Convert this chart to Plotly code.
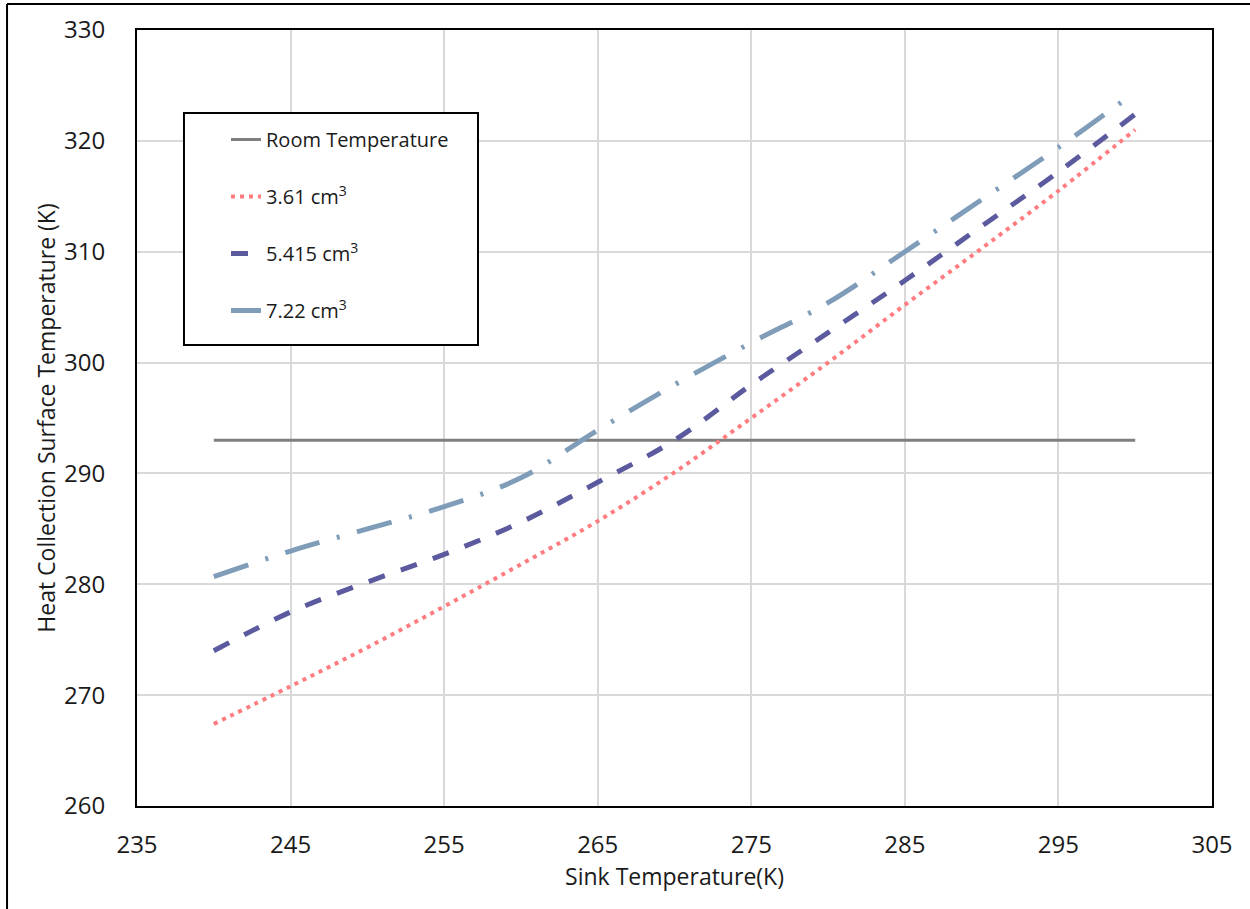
import plotly.graph_objects as go

# Sink temperature (K)
sink_temp = [240, 245, 250, 255, 260, 265, 270, 275, 280, 285, 290, 295, 300]

# Heat collection surface temperature (K) for each collector volume
temp_361 = [267.4, 270.8, 274.3, 278.0, 281.8, 285.7, 290.1, 295.0, 300.0, 305.2, 310.3, 315.5, 321.0]
temp_5415 = [274.0, 277.5, 280.2, 282.7, 285.6, 289.2, 293.0, 298.0, 302.7, 307.4, 312.3, 317.2, 322.4]
temp_722 = [280.7, 283.0, 285.0, 287.0, 289.6, 293.9, 298.0, 301.8, 305.4, 310.0, 314.7, 319.4, 324.4]

room_temp_x = [240, 300]
room_temp_y = [293, 293]

x_ticks = [235, 245, 255, 265, 275, 285, 295, 305]
y_ticks = [260, 270, 280, 290, 300, 310, 320, 330]

FONT = "'Open Sans', Lato, sans-serif"
TXT = "#1a1a1a"

fig = go.Figure()

fig.add_trace(go.Scatter(
    x=room_temp_x, y=room_temp_y, mode="lines", name="Room Temperature",
    line=dict(color="#7f7f7f", width=3), legendgroup="a"))
fig.add_trace(go.Scatter(
    x=sink_temp, y=temp_361, mode="lines", name="3.61 cm<sup>3</sup>",
    line=dict(color="#ff7c80", width=4, dash="4px,5px", shape="spline"), legendgroup="b"))
fig.add_trace(go.Scatter(
    x=sink_temp, y=temp_5415, mode="lines", name="5.415 cm<sup>3</sup>",
    line=dict(color="#5b5a9e", width=5, dash="17px,17px", shape="spline"), legendgroup="c"))
fig.add_trace(go.Scatter(
    x=sink_temp, y=temp_722, mode="lines", name="7.22 cm<sup>3</sup>",
    line=dict(color="#7f9db9", width=5, dash="36px,18px,3px,18px", shape="spline"), legendgroup="d"))

axis_common = dict(
    showline=True, linecolor="black", linewidth=2, mirror=True,
    showgrid=True, gridcolor="#d9d9d9", gridwidth=2,
    ticks="", zeroline=False,
    tickfont=dict(family=FONT, size=24, color=TXT),
)

fig.update_xaxes(
    range=[235, 305], tickvals=x_ticks, ticklabelstandoff=16,
    title=dict(text="Sink Temperature(K)", font=dict(family=FONT, size=23, color=TXT), standoff=10),
    **axis_common)
fig.update_yaxes(
    range=[260, 330], tickvals=y_ticks, ticklabelstandoff=25,
    title=dict(text="Heat Collection Surface Temperature (K)", font=dict(family=FONT, size=23, color=TXT), standoff=2),
    **axis_common)

# outer frame (left and top edges)
fig.add_shape(type="line", xref="paper", yref="paper", x0=-0.1209, x1=1.04, y0=1.0335, y1=1.0335,
              line=dict(color="black", width=2))
fig.add_shape(type="line", xref="paper", yref="paper", x0=-0.1209, x1=-0.1209, y0=-0.14, y1=1.0335,
              line=dict(color="black", width=2))

# legend frame
fig.add_shape(type="rect", xref="paper", yref="paper", x0=0.0437, x1=0.3172, y0=0.5941, y1=0.893,
              line=dict(color="black", width=2), fillcolor="white", layer="above")

fig.update_layout(
    width=1250, height=909,
    margin=dict(l=137, r=38, t=30, b=103),
    plot_bgcolor="white", paper_bgcolor="white",
    font=dict(family=FONT, size=20, color=TXT),
    showlegend=True,
    legend=dict(
        x=0.0828, y=0.884, xanchor="left", yanchor="top",
        bgcolor="rgba(0,0,0,0)", borderwidth=0,
        font=dict(family=FONT, size=20, color=TXT),
        tracegroupgap=28,
    ),
)

fig.write_html("out.html")
